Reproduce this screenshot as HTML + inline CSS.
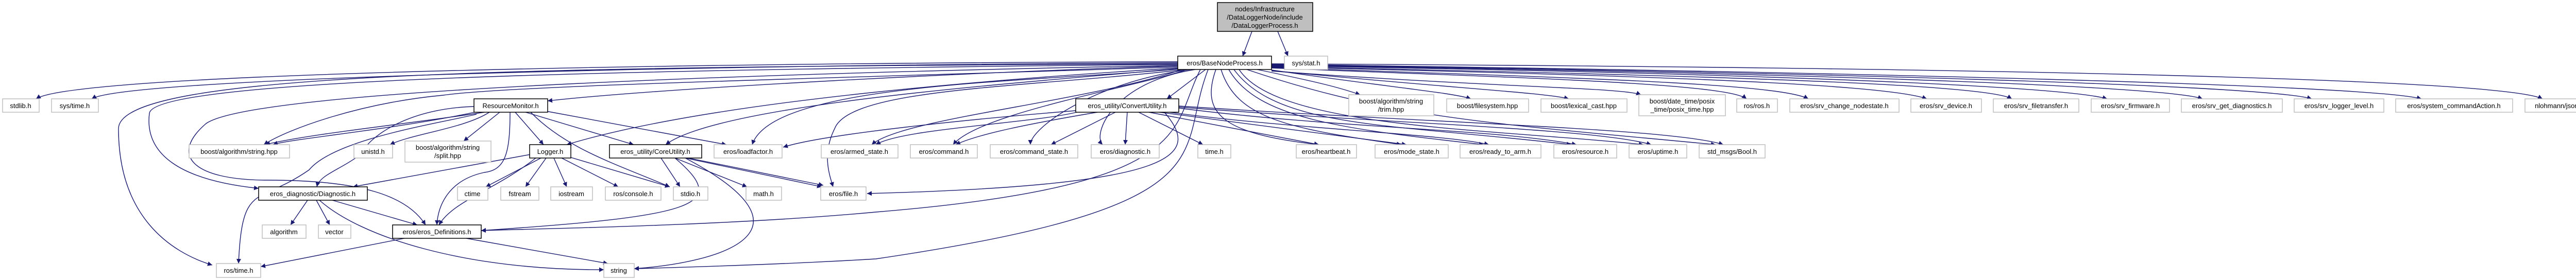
<!DOCTYPE html>
<html><head><meta charset="utf-8"><style>
html,body{margin:0;padding:0;background:#fff;width:5054px;height:544px;overflow:hidden}
svg text{font-family:"Liberation Sans",sans-serif;font-size:13px;fill:#000;text-anchor:middle}
.l{fill:#fff;stroke:#bfbfbf;stroke-width:1.5}
.b{fill:#fff;stroke:#000;stroke-width:1.5}
.e{fill:none;stroke:#191970;stroke-width:1.4}
</style></head><body>
<svg width="5054" height="544" viewBox="0 0 5054 544" xmlns="http://www.w3.org/2000/svg">
<defs><marker id="a" viewBox="0 0 10 10" refX="10" refY="5" markerWidth="9" markerHeight="9" markerUnits="userSpaceOnUse" orient="auto"><path d="M0,0 L10,5 L0,10 z" fill="#191970"/></marker></defs>
<g class="e" marker-end="url(#a)">
<path d="M2430,61 L2412,109"/>
<path d="M2480,61 L2500,109"/>
<path d="M2286,120 C1400,122 150,140 70,192"/>
<path d="M2286,122 C1400,126 250,150 178,192"/>
<path d="M2286,124 C1000,130 230,140 230,250 C230,420 330,490 412,515"/>
<path d="M2286,125 C1300,135 300,150 290,220 C280,300 350,350 502,366"/>
<path d="M2286,127 C1600,140 500,170 400,240 C330,300 370,350 520,350 C700,350 790,380 826,437"/>
<path d="M2286,128 C1900,140 1300,170 1063,196"/>
<path d="M2286,130 C1700,150 1000,165 860,185 C700,200 560,250 512,281"/>
<path d="M2286,132 C2000,150 1400,190 1100,281"/>
<path d="M2290,133 C2000,160 1400,200 1292,281"/>
<path d="M2290,134 C2000,160 1500,160 1460,281"/>
<path d="M2295,135 C2100,200 1750,230 1692,281"/>
<path d="M2300,135 C2000,170 1650,170 1620,250 C1595,300 1610,340 1617,363"/>
<path d="M2305,135 C2200,170 1900,220 1850,281"/>
<path d="M2310,135 C2120,160 2000,250 2000,281"/>
<path d="M2320,135 C2160,160 2120,260 2140,281"/>
<path d="M2340,135 L2265,192"/>
<path d="M2330,135 C2270,250 2330,360 1700,412 C1400,440 1000,445 934,448"/>
<path d="M2345,135 C2280,300 2400,400 1700,503 C1500,515 1300,520 1231,522"/>
<path d="M2360,135 C2330,220 2370,260 2560,281"/>
<path d="M2370,135 C2400,230 2500,250 2720,281"/>
<path d="M2385,135 C2440,230 2600,250 2880,281"/>
<path d="M2395,135 C2480,250 2700,240 3050,281"/>
<path d="M2405,135 C2480,250 2900,250 3190,281"/>
<path d="M2420,135 C2700,230 2900,240 3330,281"/>
<path d="M2440,135 C2560,160 2600,170 2640,184"/>
<path d="M2468,136 C2700,170 2820,180 2855,192"/>
<path d="M2468,137 C2800,170 3000,180 3045,192"/>
<path d="M2468,138 C2900,170 3150,170 3185,184"/>
<path d="M2468,132 C2900,150 3350,160 3390,192"/>
<path d="M2468,131 C3000,150 3450,160 3510,192"/>
<path d="M2468,130 C3100,145 3650,160 3740,192"/>
<path d="M2468,129 C3200,145 3850,160 3905,192"/>
<path d="M2468,128 C3300,140 4000,165 4090,192"/>
<path d="M2468,127 C3400,140 4200,165 4275,192"/>
<path d="M2468,126 C3500,140 4400,165 4487,192"/>
<path d="M2468,125 C3600,140 4600,165 4700,192"/>
<path d="M2468,124 C3700,130 4850,150 4935,192"/>
<path d="M940,218 C800,240 600,260 515,281"/>
<path d="M930,216 C780,250 560,270 530,281"/>
<path d="M950,218 C900,250 800,260 757,281"/>
<path d="M970,218 L900,274"/>
<path d="M1000,218 L1055,281"/>
<path d="M1020,218 L1230,281"/>
<path d="M1060,216 L1410,281"/>
<path d="M1030,218 C1100,290 1200,320 1300,363"/>
<path d="M920,207 C800,210 720,260 700,300 C660,330 620,340 615,363"/>
<path d="M990,218 C990,300 980,330 940,335 C870,350 850,400 848,437"/>
<path d="M925,222 C850,240 650,270 600,330 C500,400 470,350 463,512"/>
<path d="M1030,300 L685,363"/>
<path d="M1050,307 L943,363"/>
<path d="M1060,307 L1020,363"/>
<path d="M1075,307 L1100,363"/>
<path d="M1090,307 L1200,363"/>
<path d="M1105,305 L1300,363"/>
<path d="M1040,307 C960,370 880,390 852,437"/>
<path d="M1283,307 L1320,363"/>
<path d="M1310,307 L1450,363"/>
<path d="M1330,307 L1595,363"/>
<path d="M1336,307 L1598,360"/>
<path d="M1310,307 C1420,400 1350,420 934,448"/>
<path d="M1330,307 C1600,450 1400,510 1231,522"/>
<path d="M597,389 L564,437"/>
<path d="M614,389 L640,437"/>
<path d="M645,389 L810,437"/>
<path d="M620,389 C700,460 900,525 1172,524"/>
<path d="M785,463 L506,518"/>
<path d="M905,463 L1180,512"/>
<path d="M2088,215 C1900,230 1600,260 1520,286"/>
<path d="M2090,218 C2000,240 1750,250 1700,281"/>
<path d="M2130,218 C2000,240 1900,260 1855,281"/>
<path d="M2165,218 L2040,281"/>
<path d="M2188,218 L2184,281"/>
<path d="M2210,218 L2335,281"/>
<path d="M2230,218 L2560,281"/>
<path d="M2250,218 L2730,281"/>
<path d="M2270,218 C2500,250 2800,260 2890,281"/>
<path d="M2288,210 C2600,250 2900,250 3060,281"/>
<path d="M2288,208 C2700,240 3100,250 3205,281"/>
<path d="M2288,206 C2800,240 3250,250 3345,281"/>
<path d="M2260,218 C2330,300 2300,360 1683,376"/>
</g>
<rect class="b" x="2363" y="5" width="185" height="56" style="fill:#bfbfbf"/>
<text x="2455" y="22">nodes/Infrastructure</text><text x="2455" y="38">/DataLoggerNode/include</text><text x="2455" y="54">/DataLoggerProcess.h</text>
<rect class="b" x="2286" y="109" width="182" height="26"/><text x="2377" y="127">eros/BaseNodeProcess.h</text>
<rect class="l" x="2493" y="109" width="84" height="26"/><text x="2535" y="127">sys/stat.h</text>
<g>
<rect class="l" x="5" y="192" width="71" height="26"/><text x="40" y="210">stdlib.h</text>
<rect class="l" x="100" y="192" width="91" height="26"/><text x="145" y="210">sys/time.h</text>
<rect class="b" x="920" y="192" width="143" height="26"/><text x="991" y="210">ResourceMonitor.h</text>
<rect class="b" x="2088" y="192" width="200" height="26"/><text x="2188" y="210">eros_utility/ConvertUtility.h</text>
<rect class="l" x="2618" y="184" width="165" height="41"/><text x="2700" y="201">boost/algorithm/string</text><text x="2700" y="217">/trim.hpp</text>
<rect class="l" x="2808" y="192" width="159" height="26"/><text x="2887" y="210">boost/filesystem.hpp</text>
<rect class="l" x="2991" y="192" width="167" height="26"/><text x="3074" y="210">boost/lexical_cast.hpp</text>
<rect class="l" x="3181" y="184" width="168" height="41"/><text x="3265" y="201">boost/date_time/posix</text><text x="3265" y="217">_time/posix_time.hpp</text>
<rect class="l" x="3371" y="192" width="79" height="26"/><text x="3410" y="210">ros/ros.h</text>
<rect class="l" x="3474" y="192" width="212" height="26"/><text x="3580" y="210">eros/srv_change_nodestate.h</text>
<rect class="l" x="3709" y="192" width="137" height="26"/><text x="3777" y="210">eros/srv_device.h</text>
<rect class="l" x="3869" y="192" width="166" height="26"/><text x="3952" y="210">eros/srv_filetransfer.h</text>
<rect class="l" x="4059" y="192" width="152" height="26"/><text x="4135" y="210">eros/srv_firmware.h</text>
<rect class="l" x="4234" y="192" width="196" height="26"/><text x="4332" y="210">eros/srv_get_diagnostics.h</text>
<rect class="l" x="4453" y="192" width="174" height="26"/><text x="4540" y="210">eros/srv_logger_level.h</text>
<rect class="l" x="4650" y="192" width="227" height="26"/><text x="4763" y="210">eros/system_commandAction.h</text>
<rect class="l" x="4901" y="192" width="148" height="26"/><text x="4975" y="210">nlohmann/json.hpp</text>
</g>
<g>
<rect class="l" x="367" y="281" width="195" height="26"/><text x="464" y="299">boost/algorithm/string.hpp</text>
<rect class="l" x="687" y="281" width="75" height="26"/><text x="724" y="299">unistd.h</text>
<rect class="l" x="786" y="274" width="167" height="41"/><text x="869" y="291">boost/algorithm/string</text><text x="869" y="307">/split.hpp</text>
<rect class="b" x="1028" y="281" width="80" height="26"/><text x="1068" y="299">Logger.h</text>
<rect class="b" x="1183" y="281" width="179" height="26"/><text x="1272" y="299">eros_utility/CoreUtility.h</text>
<rect class="l" x="1386" y="281" width="132" height="26"/><text x="1452" y="299">eros/loadfactor.h</text>
<rect class="l" x="1594" y="281" width="149" height="26"/><text x="1668" y="299">eros/armed_state.h</text>
<rect class="l" x="1767" y="281" width="130" height="26"/><text x="1832" y="299">eros/command.h</text>
<rect class="l" x="1922" y="281" width="170" height="26"/><text x="2007" y="299">eros/command_state.h</text>
<rect class="l" x="2118" y="281" width="132" height="26"/><text x="2184" y="299">eros/diagnostic.h</text>
<rect class="l" x="2325" y="281" width="64" height="26"/><text x="2357" y="299">time.h</text>
<rect class="l" x="2516" y="281" width="117" height="26"/><text x="2574" y="299">eros/heartbeat.h</text>
<rect class="l" x="2669" y="281" width="142" height="26"/><text x="2740" y="299">eros/mode_state.h</text>
<rect class="l" x="2834" y="281" width="157" height="26"/><text x="2912" y="299">eros/ready_to_arm.h</text>
<rect class="l" x="3016" y="281" width="122" height="26"/><text x="3077" y="299">eros/resource.h</text>
<rect class="l" x="3162" y="281" width="112" height="26"/><text x="3218" y="299">eros/uptime.h</text>
<rect class="l" x="3298" y="281" width="128" height="26"/><text x="3362" y="299">std_msgs/Bool.h</text>
</g>
<g>
<rect class="b" x="502" y="363" width="211" height="26"/><text x="607" y="381">eros_diagnostic/Diagnostic.h</text>
<rect class="l" x="888" y="363" width="59" height="26"/><text x="917" y="381">ctime</text>
<rect class="l" x="972" y="363" width="74" height="26"/><text x="1009" y="381">fstream</text>
<rect class="l" x="1069" y="363" width="81" height="26"/><text x="1109" y="381">iostream</text>
<rect class="l" x="1175" y="363" width="108" height="26"/><text x="1229" y="381">ros/console.h</text>
<rect class="l" x="1307" y="363" width="67" height="26"/><text x="1340" y="381">stdio.h</text>
<rect class="l" x="1448" y="363" width="69" height="26"/><text x="1482" y="381">math.h</text>
<rect class="l" x="1593" y="363" width="88" height="26"/><text x="1637" y="381">eros/file.h</text>
<rect class="l" x="509" y="437" width="85" height="26"/><text x="551" y="455">algorithm</text>
<rect class="l" x="618" y="437" width="63" height="26"/><text x="649" y="455">vector</text>
<rect class="b" x="762" y="437" width="172" height="26"/><text x="848" y="455">eros/eros_Definitions.h</text>
<rect class="l" x="420" y="512" width="86" height="27"/><text x="463" y="530">ros/time.h</text>
<rect class="l" x="1172" y="512" width="59" height="27"/><text x="1201" y="530">string</text>
</g>
</svg>
</body></html>
